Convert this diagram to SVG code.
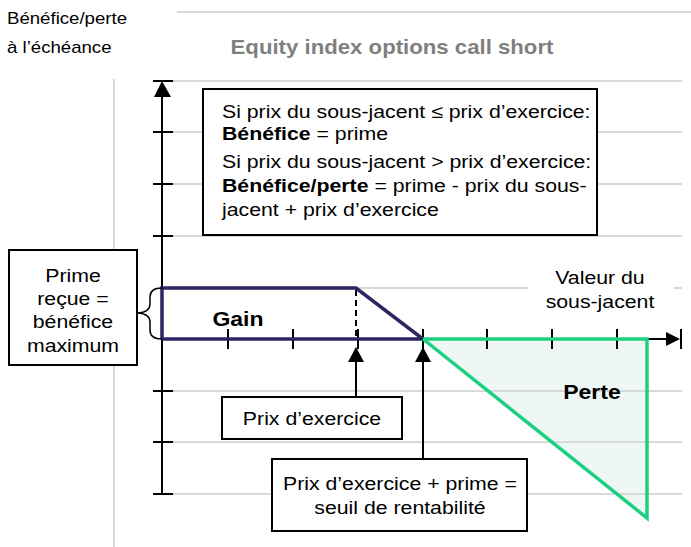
<svg xmlns="http://www.w3.org/2000/svg" width="691" height="547" viewBox="0 0 691 547">
<style>
text{font-family:"Liberation Sans",Arial,sans-serif;font-size:18.5px;fill:#000}
.b{font-weight:bold}
.c{text-anchor:middle}
.grid{stroke:#d9d9d9;stroke-width:2;fill:none}
.ax{stroke:#000;stroke-width:2;fill:none}
.box{fill:#fff;stroke:#000;stroke-width:2}
.navy{stroke:#2b2562;stroke-width:3.5;fill:none}
.green{stroke:#1dcf80;stroke-width:3.5;fill:none}
</style>
<rect width="691" height="547" fill="#fff"/>
<g id="grid">
<line class="grid" x1="177" y1="12" x2="691" y2="12"/>
<line class="grid" x1="114" y1="79" x2="114" y2="547"/>
<line class="grid" x1="173" y1="81" x2="682" y2="81"/>
<line class="grid" x1="173" y1="132" x2="682" y2="132"/>
<line class="grid" x1="173" y1="184" x2="682" y2="184"/>
<line class="grid" x1="173" y1="236" x2="682" y2="236"/>
<line class="grid" x1="162" y1="288" x2="528" y2="288"/>
<line class="grid" x1="674" y1="288" x2="682" y2="288"/>
</g>
<g id="perte-area">
<polygon points="423,339 647,339 647,518" fill="#eef7f4"/>
</g>
<g id="grid-low">
<line class="grid" x1="173" y1="391" x2="682" y2="391"/>
<line class="grid" x1="173" y1="442" x2="682" y2="442"/>
<line class="grid" x1="173" y1="494" x2="682" y2="494"/>
</g>
<g id="axis-label" transform="scale(1.15 1)">
<text x="6.09" y="24" style="font-size:16.2px">Bénéfice/perte</text>
<text x="6.09" y="53" style="font-size:16.2px">à l’échéance</text>
</g>
<g id="title" transform="scale(1.15 1)">
<text class="b c" x="340.87" y="54" style="fill:#7f7f7f;font-size:19.3px">Equity index options call short</text>
</g>
<g id="connectors">
<line class="ax" x1="162" y1="92" x2="162" y2="494"/>
<polygon points="162,81 154,97 171,97" fill="#000"/>
<line class="ax" x1="153" y1="81" x2="173" y2="81"/>
<line class="ax" x1="153" y1="132" x2="173" y2="132"/>
<line class="ax" x1="153" y1="184" x2="173" y2="184"/>
<line class="ax" x1="153" y1="236" x2="173" y2="236"/>
<line class="ax" x1="153" y1="391" x2="173" y2="391"/>
<line class="ax" x1="153" y1="442" x2="173" y2="442"/>
<line class="ax" x1="153" y1="494" x2="173" y2="494"/>
<line class="ax" x1="162" y1="339" x2="670" y2="339"/>
<polygon points="680,339 666,332 666,346" fill="#000"/>
<line class="ax" x1="681" y1="329" x2="681" y2="349"/>
<line class="ax" x1="228" y1="329" x2="228" y2="349"/>
<line class="ax" x1="293" y1="329" x2="293" y2="349"/>
<line class="ax" x1="358" y1="329" x2="358" y2="349"/>
<line class="ax" x1="423" y1="329" x2="423" y2="349"/>
<line class="ax" x1="487" y1="329" x2="487" y2="349"/>
<line class="ax" x1="552" y1="329" x2="552" y2="349"/>
<line class="ax" x1="617" y1="329" x2="617" y2="349"/>
<line x1="356" y1="290" x2="356" y2="339" stroke="#000" stroke-width="2" stroke-dasharray="6,4"/>
<polyline class="navy" points="162,339 162,288 356,288 423,339 162,339"/>
<polyline class="green" points="423,339 647,339 647,518 423,339"/>
<line class="ax" x1="356" y1="397" x2="356" y2="360"/>
<polygon points="356,347 348,362 364,362" fill="#000"/>
<line class="ax" x1="423" y1="459" x2="423" y2="360"/>
<polygon points="423,347 415,362 431,362" fill="#000"/>
<path d="M162,288 Q150,288 150,297 L150,304 Q150,312 138,313 Q150,314 150,322 L150,330 Q150,339 162,339" fill="none" stroke="#000" stroke-width="1.5"/>
</g>
<g id="payoff-labels" transform="scale(1.15 1)">
<text class="b c" x="206.96" y="326" style="font-size:20px">Gain</text>
<text class="b c" x="514.78" y="399" style="font-size:20px">Perte</text>
<text class="c" x="521.74" y="284">Valeur du</text>
<text class="c" x="521.74" y="308">sous-jacent</text>
</g>
<g id="formula-box">
<rect class="box" x="203" y="89" width="394" height="146"/>
<g transform="scale(1.15 1)">
<text x="193.04" y="118">Si prix du sous-jacent ≤ prix d’exercice:</text>
<text x="193.04" y="140"><tspan class="b">Bénéfice</tspan> = prime</text>
<text x="193.04" y="168">Si prix du sous-jacent &gt; prix d’exercice:</text>
<text x="193.04" y="192"><tspan class="b">Bénéfice/perte</tspan> = prime - prix du sous-</text>
<text x="193.04" y="216">jacent + prix d’exercice</text>
</g>
</g>
<g id="prime-box">
<rect class="box" x="9" y="250" width="128" height="115"/>
<g transform="scale(1.15 1)">
<text class="c" x="63.48" y="282">Prime</text>
<text class="c" x="63.48" y="305">reçue =</text>
<text class="c" x="63.48" y="328">bénéfice</text>
<text class="c" x="63.48" y="352">maximum</text>
</g>
</g>
<g id="strike-box">
<rect class="box" x="222" y="397" width="180" height="42"/>
<g transform="scale(1.15 1)">
<text class="c" x="271.30" y="425">Prix d’exercice</text>
</g>
</g>
<g id="breakeven-box">
<rect class="box" x="272" y="459" width="255" height="72"/>
<g transform="scale(1.15 1)">
<text class="c" x="347.83" y="490">Prix d’exercice + prime =</text>
<text class="c" x="347.83" y="514">seuil de rentabilité</text>
</g>
</g>
</svg>
